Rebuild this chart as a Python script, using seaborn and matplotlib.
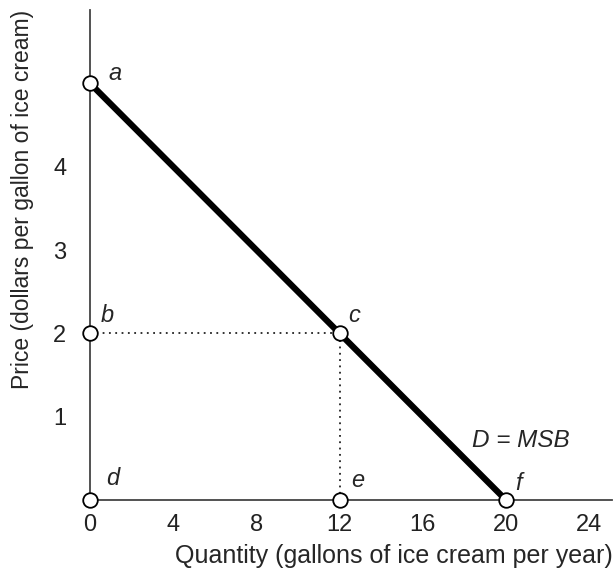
import matplotlib
matplotlib.use("Agg")
import matplotlib.pyplot as plt
import seaborn as sns
import pandas as pd

# -------- DATA --------
demand_qty = [0, 20]
demand_price = [5, 0]

point_labels = ["a", "b", "c", "d", "e", "f"]
point_qty = [0, 0, 12, 0, 12, 20]
point_price = [5, 2, 2, 0, 0, 0]

x_ticks = [0, 4, 8, 12, 16, 20, 24]
y_ticks = [1, 2, 3, 4]

df_points = pd.DataFrame({"label": point_labels, "qty": point_qty, "price": point_price})
df_demand = pd.DataFrame({"qty": demand_qty, "price": demand_price})

# -------- PLOT --------
sns.set_style("white")
plt.rcParams["font.family"] = ["Liberation Sans", "DejaVu Sans"]

fig = plt.figure(figsize=(6.16, 5.77), dpi=100)
ax = fig.add_axes([0.146, 0.133, 0.848, 0.85])

# dotted guides from b to c and c to e
ax.plot([0, 12], [2, 2], color="#222222", linestyle=(0, (1, 2.5)), linewidth=1.3, zorder=1)
ax.plot([12, 12], [0, 2], color="#222222", linestyle=(0, (1, 2.5)), linewidth=1.3, zorder=1)

sns.lineplot(data=df_demand, x="qty", y="price", color="black", linewidth=4.5, ax=ax, zorder=2)
sns.scatterplot(data=df_points, x="qty", y="price", s=110, facecolor="white",
                edgecolor="black", linewidth=1.3, ax=ax, zorder=3, clip_on=False)

# label positions relative to each point (data units)
offsets = {"a": (1.2, 0.12), "b": (0.85, 0.22), "c": (0.7, 0.22), "d": (1.1, 0.26),
           "e": (0.85, 0.24), "f": (0.6, 0.2)}
for lab, q, p in zip(point_labels, point_qty, point_price):
    dx, dy = offsets[lab]
    ax.text(q + dx, p + dy, lab, fontsize=17, style="italic", ha="center", va="center")

ax.text(20.7, 0.72, "D = MSB", fontsize=17.5, style="italic", ha="center", va="center")

ax.set_xlim(0, 25.1)
ax.set_ylim(0, 5.88)
ax.set_xticks(x_ticks)
ax.set_yticks(y_ticks)
ax.tick_params(direction="in", length=6, width=1, labelsize=17, colors="#222222")
ax.tick_params(axis="y", pad=17)
ax.tick_params(axis="x", pad=10)
for sp in ["top", "right"]:
    ax.spines[sp].set_visible(False)
for sp in ["left", "bottom"]:
    ax.spines[sp].set_color("#444444")
    ax.spines[sp].set_linewidth(1.3)

ax.set_xlabel("Quantity (gallons of ice cream per year)", fontsize=18, loc="right", labelpad=6)
ax.set_ylabel("Price (dollars per gallon of ice cream)", fontsize=16.5, loc="top", labelpad=14)

plt.savefig("out.png", dpi=100)
